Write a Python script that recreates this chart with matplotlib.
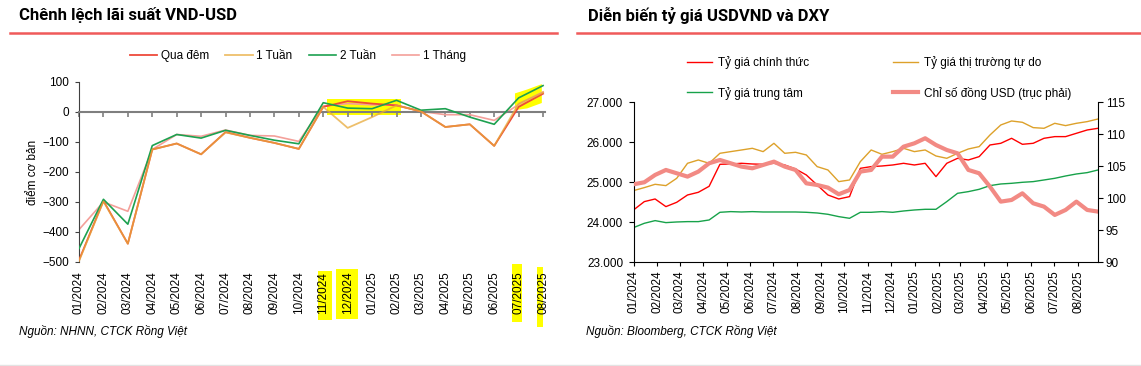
import numpy as np
import pandas as pd
import matplotlib
matplotlib.use("Agg")
import matplotlib.pyplot as plt
import matplotlib.dates as mdates
from matplotlib.lines import Line2D
from matplotlib.patches import Rectangle, Polygon
from matplotlib.ticker import FuncFormatter

plt.rcParams['font.family'] = ['Liberation Sans', 'DejaVu Sans']

# ---------------- Data: left chart (chênh lệch lãi suất, điểm cơ bản) ----------------
months = ['01/2024', '02/2024', '03/2024', '04/2024', '05/2024', '06/2024', '07/2024',
          '08/2024', '09/2024', '10/2024', '11/2024', '12/2024', '01/2025', '02/2025',
          '03/2025', '04/2025', '05/2025', '06/2025', '07/2025', '08/2025']
qua_dem = [-494, -296, -439, -125, -105, -141, -67, -86, -103, -123,
           17, 36, 28, 22, 2, -50, -41, -113, 17, 61]
tuan_1 = [-497, -298, -439, -125, -105, -141, -68, -86, -103, -123,
          17, -53, -17, 22, 2, -50, -41, -113, 28, 65]
tuan_2 = [-455, -291, -374, -112, -75, -87, -61, -78, -94, -106,
          31, 13, 11, 39, 6, 11, -17, -41, 47, 88]
thang_1 = [-392, -300, -331, -125, -75, -81, -60, -78, -80, -98,
           20, 28, 24, 23, 2, -9, -9, -28, 25, 67]

# ---------------- Data: right chart (tỷ giá, DXY) - read every ~2 weeks ----------------
dates = pd.date_range('2024-01-01', '2025-08-27', periods=44)
ty_gia_chinh_thuc = [24308, 24517, 24583, 24392, 24500, 24683, 24750, 24900, 25450, 25458,
                     25475, 25458, 25450, 25475, 25433, 25333, 25183, 24933, 24683, 24583,
                     24642, 25350, 25392, 25408, 25433, 25475, 25433, 25475, 25142, 25475,
                     25600, 25558, 25642, 25933, 25975, 26100, 25950, 25975, 26100, 26142,
                     26142, 26225, 26308, 26350]
ty_gia_tu_do = [24792, 24867, 24950, 24917, 25100, 25475, 25558, 25475, 25725, 25767,
                25808, 25850, 25767, 25975, 25725, 25750, 25683, 25392, 25308, 25017,
                25058, 25517, 25808, 25700, 25767, 25850, 25767, 25808, 25658, 25600,
                25725, 25833, 25892, 26183, 26433, 26533, 26500, 26367, 26350, 26475,
                26417, 26475, 26517, 26583]
ty_gia_trung_tam = [23867, 23975, 24042, 23992, 24008, 24017, 24017, 24058, 24250, 24267,
                    24258, 24267, 24258, 24258, 24258, 24258, 24250, 24233, 24200, 24142,
                    24100, 24250, 24250, 24267, 24250, 24283, 24308, 24325, 24325, 24517,
                    24725, 24767, 24825, 24917, 24958, 24975, 25000, 25017, 25058, 25100,
                    25158, 25208, 25242, 25308]
dxy = [102.19, 102.5, 103.65, 104.43, 103.91, 103.39, 104.17, 105.47, 105.99, 105.47,
       104.95, 104.69, 105.21, 105.73, 104.95, 104.43, 102.34, 102.08, 101.67, 100.63,
       101.3, 104.17, 104.43, 106.51, 106.51, 108.07, 108.59, 109.38, 108.33, 107.55,
       107.03, 104.43, 103.91, 101.82, 99.48, 99.74, 100.78, 99.22, 98.70, 97.40,
       98.18, 99.48, 98.18, 97.92]

W, H = 1141, 366
fig = plt.figure(figsize=(W / 100, H / 100), dpi=100)
fig.patch.set_facecolor('white')


def fx(px):
    return px / W


def fy(py):
    return 1 - py / H


# ---------------- Titles + red rules ----------------
title_font = ['Liberation Sans Narrow', 'Roboto', 'DejaVu Sans']
fig.text(fx(19), fy(15), 'Chênh lệch lãi suất VND-USD', fontsize=12, fontweight='bold',
         family=title_font, va='center', ha='left')
fig.text(fx(588), fy(15), 'Diễn biến tỷ giá USDVND và DXY', fontsize=12, fontweight='bold',
         family=title_font, va='center', ha='left')
fig.add_artist(Line2D([fx(10), fx(557)], [fy(32.5)] * 2, color='#F05A5A', lw=1.8))
fig.add_artist(Line2D([fx(577), 1.0], [fy(32.5)] * 2, color='#F05A5A', lw=1.8))
fig.add_artist(Line2D([0, 1], [fy(364.5)] * 2, color='#E3E3E3', lw=1))

# ---------------- Left chart ----------------
ax = fig.add_axes([fx(79), fy(262), fx(545 - 79), (262 - 82) / H])
ax.patch.set_alpha(0)
x = np.arange(len(months))

ax.plot(x, qua_dem, color='#EE4A3A', lw=1.3, label='Qua đêm', zorder=3)
ax.plot(x, tuan_1, color='#E8AA3A', lw=1.3, alpha=0.75, label='1 Tuần', zorder=4)
ax.plot(x, tuan_2, color='#1DA150', lw=1.2, label='2 Tuần', zorder=3)
ax.plot(x, thang_1, color='#F4A09A', lw=1.2, label='1 Tháng', zorder=2)

# yellow highlighter marks
ax.add_patch(Rectangle((10.15, -9), 3.05, 51, color='#FFFF00', lw=0, zorder=1))
ax.add_patch(Polygon([(17.85, 6), (17.85, 62), (18.35, 75), (18.95, 93), (18.95, 30), (18.35, 12)],
                     closed=True, color='#FFFF00', lw=0, zorder=1))

ax.set_xlim(0, 19.08)
ax.set_ylim(-500, 100)
ax.set_yticks([100, 0, -100, -200, -300, -400, -500])
ax.spines['top'].set_visible(False)
ax.spines['right'].set_visible(False)
ax.spines['left'].set_color('#404040')
ax.spines['bottom'].set_position(('data', 0))
ax.spines['bottom'].set_color('#7F7F7F')
ax.spines['bottom'].set_linewidth(1.5)
ax.set_xticks(x)
ax.tick_params(axis='x', direction='out', length=3.5, width=1.2, color='#7F7F7F', labelbottom=False)
ax.tick_params(axis='y', direction='out', length=3, color='#404040', labelsize=8.5, pad=4)

sec = ax.secondary_xaxis(0.0)
sec.set_xticks(x, labels=months, rotation=90, fontsize=8.5)
sec.tick_params(length=0, pad=7)
sec.spines['bottom'].set_visible(False)

fig.text(fx(33), fy(172), 'điểm cơ bản', rotation=90, fontsize=8.5, va='center', ha='center')

ax.legend(loc='upper left', bbox_to_anchor=(fx(130), fy(50)), bbox_transform=fig.transFigure,
          ncol=4, frameon=False, fontsize=8.5, handlelength=2.3, handletextpad=0.3,
          columnspacing=1.4, borderpad=0, borderaxespad=0)

# highlights behind tick labels
for x0, x1, y0, y1 in [(318, 332, 271, 320), (336, 358, 269, 319), (512, 522, 264, 322), (537, 543, 267, 327)]:
    fig.add_artist(Rectangle((fx(x0), fy(y1)), fx(x1 - x0), (y1 - y0) / H,
                             transform=fig.transFigure, color='#FFFF00', lw=0, zorder=-1))

fig.text(fx(19), fy(332), 'Nguồn: NHNN, CTCK Rồng Việt', fontsize=8.5, style='italic',
         va='center', ha='left')

# ---------------- Right chart ----------------
axr = fig.add_axes([fx(633.5), fy(262.3), fx(1098 - 633.5), (262.3 - 102.3) / H])
axr.patch.set_alpha(0)
l1, = axr.plot(dates, ty_gia_chinh_thuc, color='#FF0000', lw=1.0, label='Tỷ giá chính thức')
l2, = axr.plot(dates, ty_gia_tu_do, color='#DDA12A', lw=1.0, label='Tỷ giá thị trường tự do')
l3, = axr.plot(dates, ty_gia_trung_tam, color='#17A24A', lw=1.0, label='Tỷ giá trung tâm')
axr.set_ylim(23000, 27000)
axr.set_yticks([23000, 24000, 25000, 26000, 27000])
axr.yaxis.set_major_formatter(FuncFormatter(lambda v, p: f"{v:,.0f}".replace(',', '.')))
axr.set_xlim(pd.Timestamp('2024-01-01'), pd.Timestamp('2025-08-27'))
axr.xaxis.set_major_locator(mdates.MonthLocator())
axr.xaxis.set_major_formatter(mdates.DateFormatter('%m/%Y'))
axr.tick_params(axis='x', rotation=90, labelsize=8.5, length=3, pad=3)
axr.tick_params(axis='y', labelsize=8.5, length=3.5, pad=4)
axr.spines['top'].set_visible(False)
axr.spines['right'].set_visible(False)

ax2 = axr.twinx()
l4, = ax2.plot(dates, dxy, color='#F28A84', lw=3.0, label='Chỉ số đồng USD (trục phải)')
ax2.set_ylim(90, 115)
ax2.set_yticks([90, 95, 100, 105, 110, 115])
ax2.tick_params(axis='y', labelsize=8.5, length=3.5, pad=2)
ax2.spines['top'].set_visible(False)
ax2.spines['left'].set_visible(False)
ax2.spines['bottom'].set_visible(False)

leg1 = ax2.legend(handles=[l1, l3], loc='upper left', bbox_to_anchor=(fx(687), fy(56)),
                  bbox_transform=fig.transFigure, frameon=False, fontsize=8.5,
                  handlelength=2.1, handletextpad=0.5, labelspacing=1.5, borderpad=0, borderaxespad=0)
ax2.add_artist(leg1)
ax2.legend(handles=[l2, l4], loc='upper left', bbox_to_anchor=(fx(893), fy(56)),
           bbox_transform=fig.transFigure, frameon=False, fontsize=8.5,
           handlelength=2.1, handletextpad=0.5, labelspacing=1.5, borderpad=0, borderaxespad=0)

fig.text(fx(586), fy(332), 'Nguồn: Bloomberg, CTCK Rồng Việt', fontsize=8.5, style='italic',
         va='center', ha='left')

fig.savefig('out.png', dpi=100, facecolor='white')
